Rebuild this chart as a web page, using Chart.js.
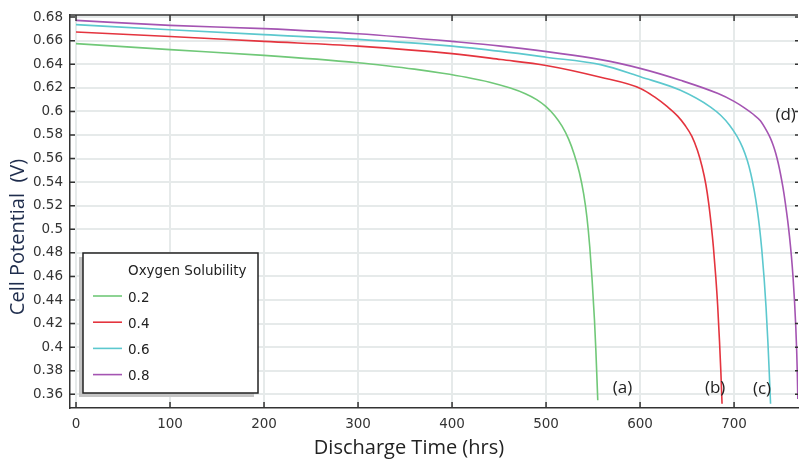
<!DOCTYPE html>
<html>
<head>
<meta charset="utf-8">
<script src="https://cdn.jsdelivr.net/npm/chart.js@4/dist/chart.umd.min.js"></script>
<style>
  html, body { margin: 0; padding: 0; background: #fff; }
  #wrap { width: 799px; height: 460px; }
</style>
</head>
<body>
<div id="wrap"><canvas id="cellChart" width="799" height="460"></canvas></div>
<script>
// Discharge curves
const seriesLabels = ['0.2', '0.4', '0.6', '0.8'];
const curveTags = ['(a)', '(b)', '(c)', '(d)'];

const timeA = [0, 100, 200, 300, 330, 360, 390, 415, 440, 462, 478, 490, 500, 509, 517, 524, 530, 535.5, 540, 543.5, 546.5, 549, 551.5, 553, 555];
const voltA = [0.6575, 0.6524, 0.6475, 0.6413, 0.6388, 0.6359, 0.6324, 0.6290, 0.6248, 0.6198, 0.6150, 0.6100, 0.6040, 0.5965, 0.5875, 0.5765, 0.5635, 0.548, 0.530, 0.510, 0.485, 0.457, 0.423, 0.397, 0.355];

const timeB = [0, 100, 200, 300, 400, 452, 500, 558, 601, 615, 629, 640, 648, 655, 661, 666, 670, 673, 675.5, 678, 680.5, 682.5, 684.5, 686, 687.2];
const voltB = [0.6673, 0.6636, 0.6594, 0.6554, 0.649, 0.6440, 0.639, 0.629, 0.6193, 0.6125, 0.6040, 0.5960, 0.5880, 0.579, 0.567, 0.553, 0.538, 0.522, 0.505, 0.485, 0.460, 0.436, 0.405, 0.378, 0.352];

const timeC = [0, 100, 200, 300, 400, 452, 500, 558, 601, 643, 675, 686, 695, 703, 709, 714, 718, 721.5, 724.5, 727, 729.5, 732, 734, 736, 737.5, 738.8];
const voltC = [0.6736, 0.6693, 0.6651, 0.6611, 0.6554, 0.6509, 0.646, 0.6397, 0.6292, 0.6179, 0.6037, 0.5965, 0.5885, 0.579, 0.5695, 0.5585, 0.5465, 0.5325, 0.5175, 0.502, 0.4825, 0.458, 0.434, 0.404, 0.377, 0.352];

const timeD = [0, 100, 200, 300, 400, 452, 558, 601, 643, 683, 700, 711, 720, 728, 735, 738.5, 741.5, 744.3, 747, 749.5, 752, 754.5, 757, 759, 761, 762.8, 764.3, 765.6, 766.6, 767.3, 767.8];
const voltD = [0.6772, 0.673, 0.6702, 0.6659, 0.6594, 0.6554, 0.6439, 0.6363, 0.6264, 0.6151, 0.6085, 0.6030, 0.5978, 0.5920, 0.5830, 0.5775, 0.5715, 0.5645, 0.5560, 0.5465, 0.5355, 0.5225, 0.5075, 0.4935, 0.477, 0.4585, 0.439, 0.418, 0.397, 0.377, 0.356];

// where the (a)..(d) tags sit, in data units
const tagTime = [571, 669, 720, 744];
const tagVolt = [0.3655, 0.3655, 0.364, 0.5966];

const xTicks = [0, 100, 200, 300, 400, 500, 600, 700];
const yTicks = [0.36, 0.38, 0.4, 0.42, 0.44, 0.46, 0.48, 0.5, 0.52, 0.54, 0.56, 0.58, 0.6, 0.62, 0.64, 0.66, 0.68];

const colors = ['rgb(112,200,120)', 'rgb(228,52,62)', 'rgb(92,200,206)', 'rgb(164,84,178)'];
const times = [timeA, timeB, timeC, timeD];
const volts = [voltA, voltB, voltC, voltD];

const pts = (t, v) => t.map((x, i) => ({ x: x, y: v[i] }));

const datasets = seriesLabels.map((lab, i) => ({
    label: lab,
    data: pts(times[i], volts[i]),
    borderColor: colors[i],
    borderWidth: 1.6,
    pointRadius: 0,
    fill: false,
    cubicInterpolationMode: 'monotone'
}));

const tickFont = { family: 'DejaVu Sans', size: 13.5 };
const dark = '#333';

// axes extras: inward ticks, top border, titles, tags, legend box
const extras = {
    id: 'extras',
    afterDatasetsDraw(chart) {
        const ctx = chart.ctx;
        const a = chart.chartArea;
        const xs = chart.scales.x, ys = chart.scales.y;
        ctx.save();
        ctx.strokeStyle = dark;
        ctx.lineWidth = 1.5;
        ctx.beginPath();
        ctx.moveTo(a.left, a.top); ctx.lineTo(a.right, a.top);
        xTicks.forEach(t => {
            const px = xs.getPixelForValue(t);
            ctx.moveTo(px, a.bottom); ctx.lineTo(px, a.bottom - 6);
            ctx.moveTo(px, a.top); ctx.lineTo(px, a.top + 6);
        });
        yTicks.forEach(v => {
            const py = ys.getPixelForValue(v);
            ctx.moveTo(a.left, py); ctx.lineTo(a.left + 5, py);
            ctx.moveTo(a.right, py); ctx.lineTo(a.right - 3, py);
        });
        ctx.stroke();

        // curve tags
        ctx.fillStyle = '#222';
        ctx.font = '17px "Open Sans"';
        ctx.textAlign = 'left';
        ctx.textBaseline = 'middle';
        curveTags.forEach((tag, i) => {
            ctx.fillText(tag, xs.getPixelForValue(tagTime[i]), ys.getPixelForValue(tagVolt[i]));
        });

        // legend box
        const lx = 83, ly = 253, lw = 175, lh = 140;
        ctx.fillStyle = '#c4c4c4';
        ctx.fillRect(lx - 4, ly + 4, lw, lh);
        ctx.fillStyle = '#fff';
        ctx.fillRect(lx, ly, lw, lh);
        ctx.strokeStyle = '#222';
        ctx.lineWidth = 1.5;
        ctx.strokeRect(lx, ly, lw, lh);
        ctx.font = '13.5px "DejaVu Sans"';
        ctx.fillStyle = '#222';
        ctx.fillText('Oxygen Solubility', lx + 45, ly + 18);
        seriesLabels.forEach((lab, i) => {
            const ry = ly + 43 + i * 26.2;
            ctx.strokeStyle = colors[i];
            ctx.lineWidth = 1.6;
            ctx.beginPath();
            ctx.moveTo(lx + 10, ry); ctx.lineTo(lx + 39, ry);
            ctx.stroke();
            ctx.fillStyle = '#222';
            ctx.fillText(lab, lx + 45, ry + 2);
        });

        // axis titles
        ctx.font = '20px "Open Sans"';
        ctx.fillStyle = '#222';
        ctx.textAlign = 'center';
        ctx.textBaseline = 'alphabetic';
        ctx.fillText('Discharge Time (hrs)', 409, 454);
        ctx.translate(24, 237);
        ctx.rotate(-Math.PI / 2);
        ctx.fillStyle = '#1f2d4d';
        ctx.fillText('Cell Potential  (V)', 0, 0);
        ctx.restore();
    }
};

new Chart(document.getElementById('cellChart'), {
    type: 'line',
    data: { datasets: datasets },
    options: {
        responsive: false,
        animation: false,
        layout: { padding: { left: 0, right: 1, top: 15, bottom: 0 } },
        plugins: { legend: { display: false }, tooltip: { enabled: false } },
        scales: {
            x: {
                type: 'linear',
                min: -6.4,
                max: 768,
                afterBuildTicks: s => { s.ticks = xTicks.map(v => ({ value: v })); },
                afterFit: s => { s.height = 52; },
                grid: { color: '#e6eaea', lineWidth: 2, drawTicks: false },
                border: { color: dark, width: 1.5 },
                ticks: { font: tickFont, color: dark, padding: 8, maxRotation: 0 }
            },
            y: {
                min: 0.3484,
                max: 0.6817,
                afterBuildTicks: s => { s.ticks = yTicks.map(v => ({ value: v })); },
                afterFit: s => { s.width = 70; },
                grid: { color: '#e6eaea', lineWidth: 2, drawTicks: false },
                border: { color: dark, width: 1.5 },
                ticks: {
                    font: tickFont, color: dark, padding: 7,
                    callback: v => String(Number(v.toFixed(2)))
                }
            }
        }
    },
    plugins: [extras]
});
</script>
</body>
</html>
